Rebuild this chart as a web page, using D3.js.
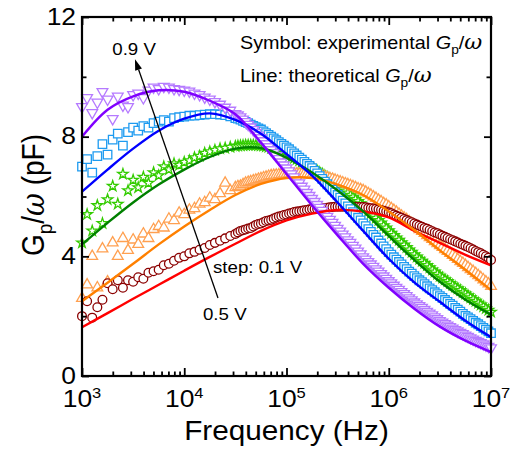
<!DOCTYPE html>
<html><head><meta charset="utf-8">
<script src="https://cdn.jsdelivr.net/npm/d3@7"></script>
<style>
body{margin:0;background:#fff}
text{font-family:"Liberation Sans",Arial,Helvetica,sans-serif;fill:#000}
.om{font-family:"DejaVu Serif",serif;font-style:italic}
</style>
</head><body>
<svg id="c" width="513" height="451"></svg>
<script>
// ---- data (log10 of frequency in Hz, Gp/omega in pF) ----
const fitLogF = [3, 3.25, 3.5, 3.75, 4, 4.25, 4.5, 4.75, 5, 5.25, 5.5, 5.75, 6, 6.25, 6.5, 6.75, 7];
const fit05 = [1.63, 2.1, 2.58, 3.05, 3.52, 3.98, 4.42, 4.85, 5.2, 5.43, 5.55, 5.5, 5.3, 4.85, 4.45, 4.05, 3.7];
const fit06 = [2.5, 3.12, 3.75, 4.4, 5.0, 5.55, 6.05, 6.42, 6.62, 6.62, 6.4, 6.05, 5.5, 4.88, 4.2, 3.55, 2.87];
const fit07 = [4.4, 5.12, 5.8, 6.4, 6.9, 7.32, 7.6, 7.62, 7.3, 6.8, 6.2, 5.5, 4.68, 3.88, 3.15, 2.55, 2.05];
const fit08 = [6.16, 6.9, 7.6, 8.2, 8.6, 8.78, 8.56, 8.1, 7.42, 6.7, 5.8, 4.85, 3.92, 3.13, 2.48, 1.85, 1.3];
const fit09 = [8.0, 8.9, 9.35, 9.55, 9.5, 9.2, 8.75, 7.8, 6.75, 5.7, 4.7, 3.75, 2.95, 2.25, 1.65, 1.18, 0.8];

// measured points, main sweep
const expLogF = [3.00,3.05,3.10,3.15,3.20,3.25,3.30,3.35,3.40,3.45,
 3.50,3.55,3.60,3.65,3.70,3.75,3.80,3.85,3.90,3.95,
 4.00,4.05,4.10,4.15,4.20,4.25,4.30,4.35,4.40,4.45,
 4.50,4.55,4.60,4.65,4.70,4.75,4.80,4.85,4.90,4.95,
 5.00,5.05,5.10,5.15,5.20,5.25,5.30,5.35,5.40,5.45,
 5.50,5.55,5.60,5.65,5.70,5.75,5.80,5.85,5.90,5.95,
 6.00,6.05,6.10,6.15,6.20,6.25,6.30,6.35,6.40,6.45,
 6.50,6.55,6.60,6.65,6.70,6.75,6.80,6.85,6.90,6.95,
 7.00];
const exp05 = [2.0,2.5,1.95,2.3,2.55,3.1,2.9,3.2,2.95,3.2,
 3.15,3.3,3.25,3.45,3.5,3.55,3.7,3.75,3.85,3.95,
 4.0,4.1,4.15,4.22,4.28,4.38,4.45,4.52,4.6,4.68,
 4.75,4.85,4.9,4.95,5.05,5.1,5.18,5.22,5.3,5.35,
 5.4,5.45,5.5,5.52,5.55,5.58,5.58,5.6,5.62,5.65,
 5.66,5.66,5.66,5.66,5.65,5.65,5.62,5.6,5.57,5.52,
 5.47,5.4,5.32,5.25,5.17,5.1,5.02,4.95,4.88,4.8,
 4.73,4.65,4.57,4.5,4.42,4.35,4.27,4.18,4.1,4.0,
 3.88];
const exp06 = [2.6,3.05,4.0,2.95,4.25,3.15,4.45,4.0,4.6,4.2,
 4.55,4.4,4.75,4.6,4.9,5.0,4.95,5.25,5.2,5.45,
 5.4,5.55,5.6,5.75,5.8,5.95,5.9,6.1,6.45,6.2,
 6.3,6.35,6.45,6.5,6.55,6.6,6.65,6.7,6.72,6.74,
 6.75,6.76,6.76,6.75,6.74,6.72,6.72,6.68,6.63,6.58,
 6.52,6.46,6.4,6.33,6.26,6.2,6.1,5.99,5.88,5.77,
 5.66,5.54,5.41,5.29,5.16,5.04,4.9,4.77,4.63,4.5,
 4.36,4.23,4.1,3.97,3.83,3.7,3.56,3.43,3.29,3.15,
 3.0];
const exp07 = [4.45,5.4,4.85,5.7,5.1,5.9,6.35,5.75,6.75,6.2,
 6.55,6.3,6.65,6.45,6.8,6.7,7.0,6.9,7.1,7.05,
 7.15,7.2,7.3,7.35,7.45,7.5,7.55,7.6,7.62,7.65,
 7.68,7.7,7.72,7.72,7.72,7.7,7.67,7.62,7.55,7.48,
 7.4,7.32,7.24,7.15,7.05,6.95,6.85,6.75,6.63,6.5,
 6.38,6.25,6.12,5.98,5.84,5.68,5.52,5.36,5.2,5.03,
 4.86,4.7,4.54,4.38,4.22,4.06,3.91,3.77,3.62,3.48,
 3.34,3.22,3.1,2.98,2.86,2.75,2.62,2.5,2.38,2.26,
 2.14];
const exp08 = [7.0,7.25,6.8,7.35,7.75,7.4,7.9,8.1,7.7,8.15,
 8.3,8.2,8.35,8.3,8.45,8.5,8.55,8.5,8.62,8.65,
 8.67,8.7,8.7,8.72,8.74,8.75,8.75,8.74,8.72,8.68,
 8.62,8.57,8.49,8.4,8.32,8.24,8.12,8.0,7.88,7.76,
 7.64,7.51,7.37,7.23,7.09,6.95,6.77,6.59,6.41,6.23,
 6.05,5.86,5.67,5.48,5.29,5.1,4.91,4.72,4.53,4.33,
 4.14,3.97,3.81,3.65,3.49,3.34,3.2,3.07,2.93,2.8,
 2.67,2.54,2.41,2.28,2.15,2.01,1.9,1.78,1.67,1.55,
 1.43];
const exp09 = [9.0,9.3,8.8,9.15,9.5,9.25,8.6,9.35,9.05,9.0,
 9.4,9.45,9.3,9.55,9.65,9.6,9.68,9.65,9.6,9.58,
 9.55,9.52,9.45,9.4,9.32,9.25,9.17,9.08,8.98,8.88,
 8.77,8.66,8.5,8.32,8.14,7.96,7.76,7.56,7.36,7.15,
 6.95,6.75,6.55,6.34,6.13,5.93,5.73,5.53,5.33,5.13,
 4.93,4.74,4.55,4.36,4.17,3.98,3.82,3.66,3.5,3.34,
 3.18,3.03,2.89,2.75,2.61,2.47,2.35,2.22,2.1,1.97,
 1.85,1.75,1.65,1.55,1.45,1.36,1.27,1.19,1.11,1.03,
 0.94];

// measured points, denser high-frequency sweep
const hfLogF = [4.525,4.575,4.625,4.675,4.725,4.775,4.825,4.875,4.925,4.975,
 5.025,5.075,5.125,5.175,5.225,5.275,5.325,5.375,5.425,5.475,
 5.525,5.575,5.625,5.675,5.725,5.775,5.825,5.875,5.925,5.975,
 6.025,6.075,6.125,6.175,6.225,6.275,6.325,6.375,6.425,6.475,
 6.525,6.575,6.625,6.675,6.725,6.775,6.825,6.875,6.925,6.975];
const hf05 = [4.8,4.87,4.93,5.0,5.08,5.14,5.2,5.26,5.33,5.38,
 5.43,5.48,5.51,5.54,5.57,5.58,5.59,5.61,5.64,5.66,
 5.66,5.66,5.66,5.66,5.65,5.64,5.61,5.59,5.55,5.5,
 5.44,5.36,5.29,5.21,5.14,5.06,4.99,4.92,4.84,4.77,
 4.69,4.61,4.54,4.46,4.39,4.31,4.23,4.14,4.05,3.95];
const hf06 = [6.33,6.4,6.48,6.53,6.58,6.63,6.68,6.71,6.73,6.75,
 6.76,6.76,6.76,6.75,6.73,6.72,6.7,6.66,6.6,6.55,
 6.49,6.43,6.37,6.3,6.23,6.15,6.05,5.94,5.83,5.72,
 5.6,5.48,5.35,5.23,5.1,4.97,4.84,4.7,4.57,4.43,
 4.3,4.17,4.04,3.9,3.77,3.63,3.5,3.36,3.22,3.08];
const hf07 = [7.69,7.71,7.72,7.72,7.71,7.69,7.65,7.59,7.52,7.44,
 7.36,7.28,7.2,7.1,7.0,6.9,6.8,6.69,6.57,6.44,
 6.32,6.19,6.05,5.91,5.76,5.6,5.44,5.28,5.12,4.95,
 4.78,4.62,4.46,4.3,4.14,3.98,3.84,3.7,3.55,3.41,
 3.28,3.16,3.04,2.92,2.8,2.69,2.56,2.44,2.32,2.2];
const hf08 = [8.6,8.53,8.45,8.36,8.28,8.18,8.06,7.94,7.82,7.7,
 7.58,7.44,7.3,7.16,7.02,6.86,6.68,6.5,6.32,6.14,
 5.96,5.77,5.58,5.39,5.2,5.01,4.82,4.63,4.43,4.24,
 4.06,3.89,3.73,3.57,3.42,3.27,3.14,3.0,2.87,2.74,
 2.61,2.48,2.35,2.22,2.08,1.96,1.84,1.73,1.61,1.49];
const hf09 = [8.72,8.58,8.41,8.23,8.05,7.86,7.66,7.46,7.26,7.05,
 6.85,6.65,6.45,6.24,6.03,5.83,5.63,5.43,5.23,5.03,
 4.84,4.65,4.46,4.27,4.08,3.9,3.74,3.58,3.42,3.26,
 3.11,2.96,2.82,2.68,2.54,2.41,2.29,2.16,2.04,1.91,
 1.8,1.7,1.6,1.5,1.41,1.32,1.23,1.15,1.07,0.99];

const xDecades = [3, 4, 5, 6, 7];
const yMajor = [0, 4, 8, 12];
const yMinor = [2, 6, 10];

// ---- drawing ----
const svg = d3.select("#c");
const x = d3.scaleLog().domain([1e3, 1e7]).range([82, 491]);
const y = d3.scaleLinear().domain([0, 12]).range([376, 17]);
const SX = 1.1; // horizontal stretch of the typeface in the original

const series = [
  {exp: exp07, hf: hf07, fit: fit07, mk: "#33cc00", ln: "#008000", sym: d3.symbolStar, size: 34, rot: 0},
  {exp: exp06, hf: hf06, fit: fit06, mk: "#ffa050", ln: "#ff8000", sym: d3.symbolTriangle, size: 50, rot: 0},
  {exp: exp05, hf: hf05, fit: fit05, mk: "#8b0000", ln: "#ff0000", sym: d3.symbolCircle, size: 60, rot: 0},
  {exp: exp08, hf: hf08, fit: fit08, mk: "#1e9bf0", ln: "#0000ff", sym: d3.symbolSquare, size: 72, rot: 0},
  {exp: exp09, hf: hf09, fit: fit09, mk: "#b57aff", ln: "#8000ff", sym: d3.symbolTriangle, size: 50, rot: 180}
];

const plot = svg.append("g");
series.forEach(s => {
  const pts = expLogF.map((l, i) => [l, s.exp[i]])
    .concat(hfLogF.map((l, i) => [l, s.hf[i]]))
    .sort((a, b) => a[0] - b[0])
    .map(d => [Math.pow(10, d[0]), d[1]]);
  plot.append("g").selectAll("path").data(pts).join("path")
    .attr("d", d3.symbol().type(s.sym).size(s.size))
    .attr("transform", d => `translate(${x(d[0])},${y(d[1])}) rotate(${s.rot})`)
    .attr("fill", "#fff").attr("stroke", s.mk).attr("stroke-width", 1.3);
});
const lineGen = d3.line().x(d => x(d[0])).y(d => y(d[1])).curve(d3.curveCatmullRom.alpha(0.5));
[series[2], series[1], series[0], series[3], series[4]].forEach(s => {
  const pts = fitLogF.map((l, i) => [Math.pow(10, l), s.fit[i]]);
  plot.append("path").datum(pts).attr("d", lineGen)
    .attr("fill", "none").attr("stroke", s.ln).attr("stroke-width", 2.4);
});

// axes (ticks inward on all four sides)
const minorX = x.ticks().filter(v => Math.abs(Math.log10(v) - Math.round(Math.log10(v))) > 1e-6);
const majorX = xDecades.map(e => Math.pow(10, e));
function styleAxis(g) { g.select(".domain").remove(); g.selectAll("line").attr("stroke", "#000").attr("stroke-width", 1.8); }
const [x0, x1] = x.range(), [yb, yt] = y.range();
svg.append("g").attr("transform", `translate(0,${yb})`).call(d3.axisBottom(x).tickValues(majorX).tickSize(-8).tickFormat("")).call(styleAxis);
svg.append("g").attr("transform", `translate(0,${yb})`).call(d3.axisBottom(x).tickValues(minorX).tickSize(-4.5).tickFormat("")).call(styleAxis);
svg.append("g").attr("transform", `translate(0,${yt})`).call(d3.axisTop(x).tickValues(majorX).tickSize(-8).tickFormat("")).call(styleAxis);
svg.append("g").attr("transform", `translate(0,${yt})`).call(d3.axisTop(x).tickValues(minorX).tickSize(-4.5).tickFormat("")).call(styleAxis);
svg.append("g").attr("transform", `translate(${x0},0)`).call(d3.axisLeft(y).tickValues(yMajor).tickSize(-7).tickFormat("")).call(styleAxis);
svg.append("g").attr("transform", `translate(${x0},0)`).call(d3.axisLeft(y).tickValues(yMinor).tickSize(-4.5).tickFormat("")).call(styleAxis);
svg.append("g").attr("transform", `translate(${x1},0)`).call(d3.axisRight(y).tickValues(yMajor).tickSize(-7).tickFormat("")).call(styleAxis);
svg.append("g").attr("transform", `translate(${x1},0)`).call(d3.axisRight(y).tickValues(yMinor).tickSize(-4.5).tickFormat("")).call(styleAxis);
svg.append("rect").attr("x", x0).attr("y", yt).attr("width", x1 - x0).attr("height", yb - yt)
  .attr("fill", "none").attr("stroke", "#000").attr("stroke-width", 2.2);

// tick labels
xDecades.forEach(e => {
  const t = svg.append("text").attr("transform", `translate(${x(Math.pow(10, e))},${yb + 31}) scale(${SX},1)`)
    .attr("text-anchor", "middle").style("font-size", "24px");
  t.append("tspan").text("10");
  t.append("tspan").attr("dy", -9.5).style("font-size", "15px").text(e);
});
yMajor.forEach(v => {
  svg.append("text").attr("transform", `translate(${x0 - 6},${y(v) + 7.6}) scale(${SX},1)`)
    .attr("text-anchor", "end").style("font-size", "24px").text(v);
});

// axis titles
svg.append("text").attr("transform", `translate(${(x0 + x1) / 2},${yb + 64}) scale(${SX},1)`)
  .attr("text-anchor", "middle").style("font-size", "27px").text("Frequency (Hz)");
const yt2 = svg.append("text").attr("transform", `translate(44,195) scale(${SX},1) rotate(-90)`)
  .attr("text-anchor", "middle").style("font-size", "28px");
yt2.append("tspan").text("G");
yt2.append("tspan").attr("dy", 7).style("font-size", "19px").text("p");
yt2.append("tspan").attr("dy", -7).text("/");
yt2.append("tspan").attr("class", "om").style("font-size", "28px").text("\u03c9");
yt2.append("tspan").text(" (pF)");

// legend text
function gpw(t) {
  t.append("tspan").style("font-style", "italic").text("G");
  t.append("tspan").attr("dy", 4.5).style("font-size", "12.5px").text("p");
  t.append("tspan").attr("dy", -4.5).text("/");
  t.append("tspan").attr("class", "om").style("font-size", "20px").text("\u03c9");
}
const l1 = svg.append("text").attr("transform", `translate(240,49) scale(${SX},1)`).style("font-size", "18px");
l1.append("tspan").text("Symbol: experimental "); gpw(l1);
const l2 = svg.append("text").attr("transform", `translate(240,82) scale(${SX},1)`).style("font-size", "18px");
l2.append("tspan").text("Line: theoretical "); gpw(l2);

// voltage arrow annotation (data coordinates)
const tail = [Math.pow(10, 4.330), 2.61], head = [Math.pow(10, 3.518), 10.59];
const hx = x(head[0]), hy = y(head[1]), tx = x(tail[0]), ty = y(tail[1]);
const ang = Math.atan2(hy - ty, hx - tx);
const L = 11, W = 3.6;
const bx = hx - L * Math.cos(ang), by = hy - L * Math.sin(ang);
svg.append("line").attr("x1", tx).attr("y1", ty).attr("x2", bx).attr("y2", by).attr("stroke", "#000").attr("stroke-width", 1.3);
svg.append("path").attr("d", `M${hx},${hy}L${bx + W * Math.sin(ang)},${by - W * Math.cos(ang)}L${bx - W * Math.sin(ang)},${by + W * Math.cos(ang)}Z`).attr("fill", "#000");
svg.append("text").attr("transform", `translate(${x(Math.pow(10, 3.509))},${y(10.73)}) scale(${SX},1)`)
  .attr("text-anchor", "middle").style("font-size", "17px").text("0.9 V");
svg.append("text").attr("transform", `translate(${x(Math.pow(10, 4.183))},${y(1.87)}) scale(${SX},1)`)
  .style("font-size", "17px").text("0.5 V");
svg.append("text").attr("transform", `translate(${x(Math.pow(10, 4.281))},${y(3.44)}) scale(${SX},1)`)
  .style("font-size", "17px").text("step: 0.1 V");
</script>
</body></html>
